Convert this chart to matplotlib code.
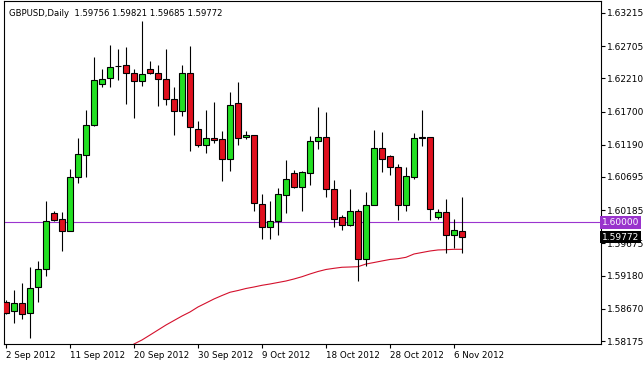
#%% import

import numpy as np
import pandas as pd
import matplotlib
matplotlib.use('Agg')
import matplotlib.pyplot as plt
from matplotlib.transforms import blended_transform_factory


#%% data

opens = [1.58774, 1.58632, 1.58755, 1.58601, 1.59000, 1.59277, 1.60147, 1.60045,
         1.59870, 1.60691, 1.61038, 1.61490, 1.62124, 1.62217, 1.62405, 1.62412,
         1.62289, 1.62175, 1.62350, 1.62289, 1.62206, 1.61898, 1.61714, 1.62289,
         1.61428, 1.61192, 1.61295, 1.61275, 1.60967, 1.61828, 1.61305, 1.61336,
         1.60280, 1.59922, 1.60024, 1.60414, 1.60752, 1.60537, 1.60761, 1.61244,
         1.61315, 1.60515, 1.60076, 1.59953, 1.60168, 1.59440, 1.60270, 1.61141,
         1.61018, 1.60844, 1.60270, 1.60700, 1.61303, 1.61305, 1.60076, 1.60157,
         1.59809, 1.59870]
highs = [1.58805, 1.58959, 1.59062, 1.59308, 1.59409, 1.60331, 1.60173, 1.60157,
         1.60814, 1.61295, 1.61725, 1.62535, 1.62350, 1.62719, 1.62657, 1.62688,
         1.62350, 1.63088, 1.62473, 1.62412, 1.62657, 1.62074, 1.62412, 1.62708,
         1.61551, 1.61725, 1.61848, 1.61397, 1.62001, 1.62155, 1.61397, 1.61340,
         1.60434, 1.60322, 1.60526, 1.60956, 1.60803, 1.60783, 1.61325, 1.61766,
         1.61694, 1.60649, 1.60107, 1.60506, 1.60199, 1.60465, 1.61417, 1.61387,
         1.61029, 1.60895, 1.60844, 1.61367, 1.61725, 1.61310, 1.60199, 1.60362,
         1.60045, 1.60392]
lows = [1.58590, 1.58456, 1.58518, 1.58221, 1.58774, 1.59174, 1.60019, 1.59563,
        1.59858, 1.60608, 1.60700, 1.61485, 1.62074, 1.62083, 1.62186, 1.61817,
        1.61602, 1.62094, 1.62285, 1.61786, 1.61806, 1.61345, 1.61633, 1.61099,
        1.61152, 1.61069, 1.61222, 1.60638, 1.60792, 1.61192, 1.61275, 1.60168,
        1.59738, 1.59738, 1.59809, 1.60147, 1.60530, 1.60177, 1.60577, 1.61121,
        1.60383, 1.59932, 1.59881, 1.59942, 1.59092, 1.59328, 1.60265, 1.60772,
        1.60731, 1.60035, 1.60177, 1.60660, 1.61172, 1.60035, 1.60054, 1.59532,
        1.59604, 1.59523]
closes = [1.58610, 1.58755, 1.58590, 1.58990, 1.59277, 1.60024, 1.60035, 1.59870,
          1.60691, 1.61049, 1.61490, 1.62186, 1.62206, 1.62381, 1.62398, 1.62289,
          1.62175, 1.62278, 1.62289, 1.62206, 1.61889, 1.61714, 1.62289, 1.61468,
          1.61192, 1.61295, 1.61264, 1.60967, 1.61806, 1.61295, 1.61336, 1.60291,
          1.59922, 1.60024, 1.60434, 1.60660, 1.60537, 1.60772, 1.61244, 1.61315,
          1.60515, 1.60045, 1.59953, 1.60177, 1.59440, 1.60260, 1.61141, 1.60967,
          1.60844, 1.60270, 1.60711, 1.61295, 1.61296, 1.60199, 1.60157, 1.59809,
          1.59881, 1.59772]

# moving average, first value belongs to bar 16
ma_start = 16
ma_vals = [1.58129, 1.58191, 1.58267, 1.58344, 1.58421, 1.58490, 1.58559, 1.58621,
           1.58698, 1.58759, 1.58821, 1.58874, 1.58924, 1.58951, 1.58982, 1.59005,
           1.59031, 1.59051, 1.59074, 1.59097, 1.59128, 1.59163, 1.59205, 1.59243,
           1.59274, 1.59292, 1.59308, 1.59312, 1.59317, 1.59358, 1.59381, 1.59405,
           1.59428, 1.59440, 1.59461, 1.59512, 1.59535, 1.59558, 1.59574, 1.59578,
           1.59584, 1.59584]

level = 1.60000
last_price = 1.59772
price_ticks = [1.63215, 1.62705, 1.62210, 1.61700, 1.61190, 1.60695,
               1.60185, 1.59675, 1.59180, 1.58670, 1.58175]
header = 'GBPUSD,Daily  1.59756 1.59821 1.59685 1.59772'

dates = pd.bdate_range('2012-09-02', periods=len(opens), freq='C',
                       weekmask='Sun Mon Tue Wed Thu Fri')


#%% plot

fig = plt.figure(figsize=(6.44, 3.66), dpi=100)
ax = fig.add_axes([4/644, 22/366, 597/644, 343/366])

x = np.arange(len(opens))
o = np.array(opens)
c = np.array(closes)
up = c >= o

ax.axhline(level, color='#9b35cf', lw=0.8, zorder=1)
ax.plot(x[ma_start:], ma_vals, color='#d4102c', lw=0.8, zorder=1.5)
ax.vlines(x, lows, highs, color='black', lw=0.8, zorder=2)
ax.bar(x[up], (c - o)[up], bottom=o[up], width=0.64, color='#22e022',
       edgecolor='black', lw=0.8, zorder=3)
ax.bar(x[~up], (o - c)[~up], bottom=c[~up], width=0.64, color='#e0101e',
       edgecolor='black', lw=0.8, zorder=3)

ax.set_xlim(-0.25, 74.375)
ax.set_ylim(1.58129, 1.63399)

ax.yaxis.tick_right()
ax.set_yticks(price_ticks)
ax.set_yticklabels(['%.5f' % p for p in price_ticks])
ax.set_xticks(x[::8])
ax.set_xticklabels([d.strftime('%-d %b %Y') for d in dates[::8]], ha='left')
ax.tick_params(axis='y', length=3, width=0.8, labelsize=6.5, pad=1.5)
ax.tick_params(axis='x', length=3, width=0.8, labelsize=6.3, pad=2)
for s in ax.spines.values():
    s.set_linewidth(0.8)

ax.text(0.0084, 0.978, header, transform=ax.transAxes, ha='left', va='top',
        fontsize=6.1)

tr = blended_transform_factory(ax.transAxes, ax.transData)
ax.text(1.0017, level, '1.60000', transform=tr, ha='left', va='center',
        fontsize=6.5, color='white', clip_on=False, zorder=5,
        bbox=dict(facecolor='#9933cc', edgecolor='none', pad=1.3))
ax.text(1.0017, last_price, '1.59772', transform=tr, ha='left', va='center',
        fontsize=6.5, color='white', clip_on=False, zorder=5,
        bbox=dict(facecolor='black', edgecolor='none', pad=1.3))

plt.savefig('out.png', dpi=100)
